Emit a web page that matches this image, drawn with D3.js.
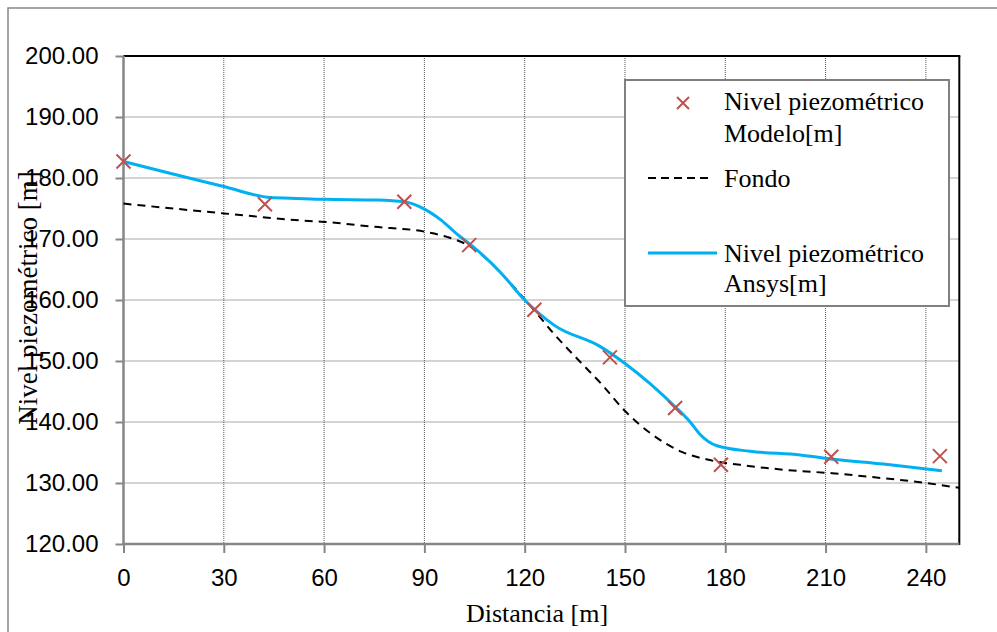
<!DOCTYPE html>
<html><head><meta charset="utf-8">
<script src="https://cdn.jsdelivr.net/npm/d3@7/dist/d3.min.js"></script>
<style>body{margin:0;background:#fff;overflow:hidden}</style>
</head><body>
<svg id="chart" width="997" height="632"></svg>
<script>
// ---- data ----
const xTicks = [0, 30, 60, 90, 120, 150, 180, 210, 240];
const yTicks = [120, 130, 140, 150, 160, 170, 180, 190, 200];

const modeloX = [0, 42.3, 84.0, 103.4, 122.9, 145.5, 165.0, 178.7, 211.7, 244.2];
const modeloY = [182.7, 175.7, 176.1, 169.0, 158.4, 150.6, 142.3, 133.0, 134.3, 134.4];

const fondoX = [0, 30, 54, 60, 75, 90, 97, 104, 116, 123, 129, 136, 143, 150, 158, 167, 175, 187, 199, 212, 227, 240, 250];
const fondoY = [175.8, 174.2, 173.0, 172.8, 172.0, 171.2, 170.3, 168.7, 162.6, 158.2, 154.3, 150.2, 146.2, 141.8, 138.0, 135.1, 133.8, 132.8, 132.1, 131.6, 130.8, 130.0, 129.2];

const ansysX = [0, 30, 44, 50, 60, 76, 84, 90, 95, 100, 104, 113, 120, 129, 142.5, 150, 157.5, 165, 169.5, 172.4, 177.5, 187.4, 202.4, 212.3, 227.3, 244.8];
const ansysY = [182.7, 178.6, 176.8, 176.7, 176.5, 176.4, 176.1, 174.9, 173.1, 170.7, 169.0, 164.4, 160.0, 155.8, 152.4, 149.6, 146.3, 142.5, 140.0, 138.0, 136.1, 135.2, 134.6, 133.9, 133.1, 132.0];

const legendLabels = [["Nivel piezométrico", "Modelo[m]"], ["Fondo"], ["Nivel piezométrico", "Ansys[m]"]];
const xTitle = "Distancia [m]";
const yTitle = "Nivel piezométrico [m]";

// ---- chart ----
const svg = d3.select("#chart");
const L = 123.5, R = 959.3, T = 56, B = 544;
const x = d3.scaleLinear().domain([0, 250]).range([L, R]);
const y = d3.scaleLinear().domain([120, 200]).range([B, T]);

const axisGray = "#868686";
const serif = "'Liberation Serif','Times New Roman',serif";
const sans = "'Liberation Sans',Arial,sans-serif";

// outer frame (top + left visible)
svg.append("rect").attr("x", 8).attr("y", 8).attr("width", 1200).attr("height", 900)
  .attr("fill", "#fff").attr("stroke", axisGray).attr("stroke-width", 1.5);

// gridlines
const grid = svg.append("g");
grid.selectAll("line.h").data(yTicks.filter(d => d > 120 && d < 200)).join("line")
  .attr("x1", L).attr("x2", R).attr("y1", d => y(d)).attr("y2", d => y(d))
  .attr("stroke", "#555").attr("stroke-width", 1).attr("stroke-dasharray", "1,1");
grid.selectAll("line.v").data(xTicks.filter(d => d > 0)).join("line")
  .attr("x1", d => x(d)).attr("x2", d => x(d)).attr("y1", T).attr("y2", B)
  .attr("stroke", "#555").attr("stroke-width", 1).attr("stroke-dasharray", "1,1");

// top and right borders (black)
svg.append("line").attr("x1", L).attr("x2", R + 1).attr("y1", T).attr("y2", T)
  .attr("stroke", "#000").attr("stroke-width", 2);
svg.append("line").attr("x1", R).attr("x2", R).attr("y1", T).attr("y2", B + 1)
  .attr("stroke", "#000").attr("stroke-width", 2);

// axes
const yAxis = svg.append("g").attr("transform", `translate(${L},0)`)
  .call(d3.axisLeft(y).tickValues(yTicks).tickFormat(d3.format(".2f")).tickSize(8).tickPadding(17));
const xAxis = svg.append("g").attr("transform", `translate(0,${B})`)
  .call(d3.axisBottom(x).tickValues(xTicks).tickFormat(d3.format("d")).tickSize(9).tickPadding(16));
[yAxis, xAxis].forEach(a => {
  a.select(".domain").remove();
  a.selectAll(".tick line").attr("stroke", axisGray).attr("stroke-width", 2);
  a.selectAll(".tick text").attr("fill", "#000").style("font-family", sans).style("font-size", "24px");
});
svg.append("line").attr("x1", L).attr("x2", L).attr("y1", T).attr("y2", B + 1)
  .attr("stroke", axisGray).attr("stroke-width", 2.5);
svg.append("line").attr("x1", L - 1).attr("x2", R).attr("y1", B).attr("y2", B)
  .attr("stroke", axisGray).attr("stroke-width", 2.5);

// series
const fondoData = fondoX.map((v, i) => [v, fondoY[i]]);
const ansysData = ansysX.map((v, i) => [v, ansysY[i]]);
const modeloData = modeloX.map((v, i) => [v, modeloY[i]]);
const line = d3.line().x(d => x(d[0])).y(d => y(d[1])).curve(d3.curveMonotoneX);

const plot = svg.append("g");
plot.append("path").datum(fondoData).attr("d", line).attr("fill", "none")
  .attr("stroke", "#000").attr("stroke-width", 2).attr("stroke-dasharray", "8,6");
plot.append("path").datum(ansysData).attr("d", line).attr("fill", "none")
  .attr("stroke", "#00B0F0").attr("stroke-width", 3);

const markerRed = "#C0504D";
const cross = (g, cx, cy, s) => {
  g.append("path").attr("d", `M${cx - s},${cy - s}L${cx + s},${cy + s}M${cx - s},${cy + s}L${cx + s},${cy - s}`)
    .attr("stroke", markerRed).attr("stroke-width", 2).attr("fill", "none");
};
modeloData.forEach(d => cross(plot, x(d[0]), y(d[1]), 7));

// legend
const lg = svg.append("g");
lg.append("rect").attr("x", 625).attr("y", 80).attr("width", 324).attr("height", 226)
  .attr("fill", "#fff").attr("stroke", "#808080").attr("stroke-width", 2);
cross(lg, 683, 103, 6);
lg.append("line").attr("x1", 648).attr("x2", 710).attr("y1", 178).attr("y2", 178)
  .attr("stroke", "#000").attr("stroke-width", 2).attr("stroke-dasharray", "8,5");
lg.append("line").attr("x1", 648).attr("x2", 717).attr("y1", 253).attr("y2", 253)
  .attr("stroke", "#00B0F0").attr("stroke-width", 3);
const legBase = [[110, 141.5], [186.5], [261.5, 291.5]];
legendLabels.forEach((lines, i) => {
  lines.forEach((t, j) => {
    lg.append("text").attr("x", 724).attr("y", legBase[i][j]).text(t)
      .style("font-family", serif).style("font-size", "26px").attr("fill", "#000");
  });
});

// axis titles
svg.append("text").attr("x", 537).attr("y", 622).attr("text-anchor", "middle").text(xTitle)
  .style("font-family", serif).style("font-size", "26px").attr("fill", "#000");
svg.append("text").attr("transform", "translate(37,298) rotate(-90)").attr("text-anchor", "middle").text(yTitle)
  .style("font-family", serif).style("font-size", "27px").attr("fill", "#000");
</script>
</body></html>
